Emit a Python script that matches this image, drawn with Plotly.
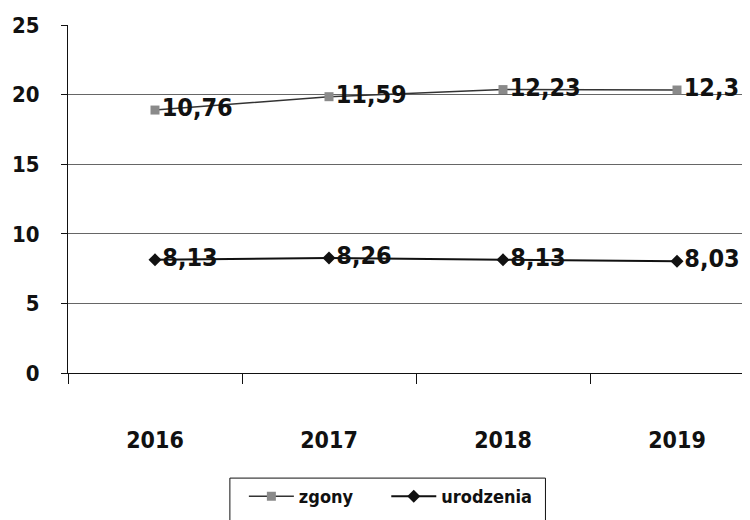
import plotly.graph_objects as go

years = ["2016", "2017", "2018", "2019"]
urodzenia = [8.13, 8.26, 8.13, 8.03]
zgony = [10.76, 11.59, 12.23, 12.3]
y_ticks = [0, 5, 10, 15, 20, 25]

def fmt(v):
    return str(v).replace(".", ",")

FONT = "DejaVu Sans Condensed, Liberation Sans Narrow, sans-serif"

fig = go.Figure()
fig.add_trace(go.Scatter(
    x=years, y=urodzenia, name="urodzenia", stackgroup="s", fill="none",
    mode="lines+markers+text",
    line=dict(color="#111111", width=2),
    marker=dict(symbol="diamond", size=10, color="#111111"),
    text=[fmt(v) for v in urodzenia], textposition="middle right",
    textfont=dict(family=FONT, size=25, color="#111111", weight="bold"),
    cliponaxis=False,
))
fig.add_trace(go.Scatter(
    x=years, y=zgony, name="zgony&nbsp;&nbsp;&nbsp;&nbsp;&nbsp;", stackgroup="s", fill="none",
    mode="lines+markers+text",
    line=dict(color="#333333", width=1.5),
    marker=dict(symbol="square", size=9, color="#8a8a8a"),
    text=[fmt(v) for v in zgony], textposition="middle right",
    textfont=dict(family=FONT, size=25, color="#111111", weight="bold"),
    cliponaxis=False,
))

fig.update_layout(
    width=756, height=520,
    margin=dict(l=60, r=0, t=17, b=155, autoexpand=False),
    paper_bgcolor="white", plot_bgcolor="white",
    font=dict(family=FONT, color="#111111"),
    showlegend=True,
    legend=dict(
        orientation="h", traceorder="reversed",
        xref="container", yref="container",
        x=0.312, y=0.096, xanchor="left", yanchor="top",
        borderwidth=0, bgcolor="rgba(0,0,0,0)",
        font=dict(family=FONT, size=18, color="#111111", weight="bold"),
        itemwidth=45,
    ),
    shapes=[dict(
        type="rect", xref="paper", yref="paper",
        x0=0.2326, x1=0.686, y0=-0.302, y1=-0.47,
        line=dict(color="#111111", width=1), fillcolor="rgba(0,0,0,0)",
    )],
    xaxis=dict(
        type="category", range=[-0.5, 3.5], automargin=False,
        showline=True, linecolor="#111111", linewidth=1,
        tickson="boundaries", ticks="outside", ticklen=10, tickcolor="#111111",
        tickfont=dict(family=FONT, size=23, color="#111111", weight="bold"),
        showgrid=False, ticklabelstandoff=46,
    ),
    yaxis=dict(
        range=[0, 25], tickvals=y_ticks, automargin=False,
        showline=True, linecolor="#111111", linewidth=1,
        ticks="outside", ticklen=6, tickcolor="#111111",
        tickfont=dict(family=FONT, size=22, color="#111111", weight="bold"),
        showgrid=True, gridcolor="#666666", gridwidth=1,
        zeroline=False, ticklabelstandoff=17,
    ),
)

fig.write_html("out.html")
